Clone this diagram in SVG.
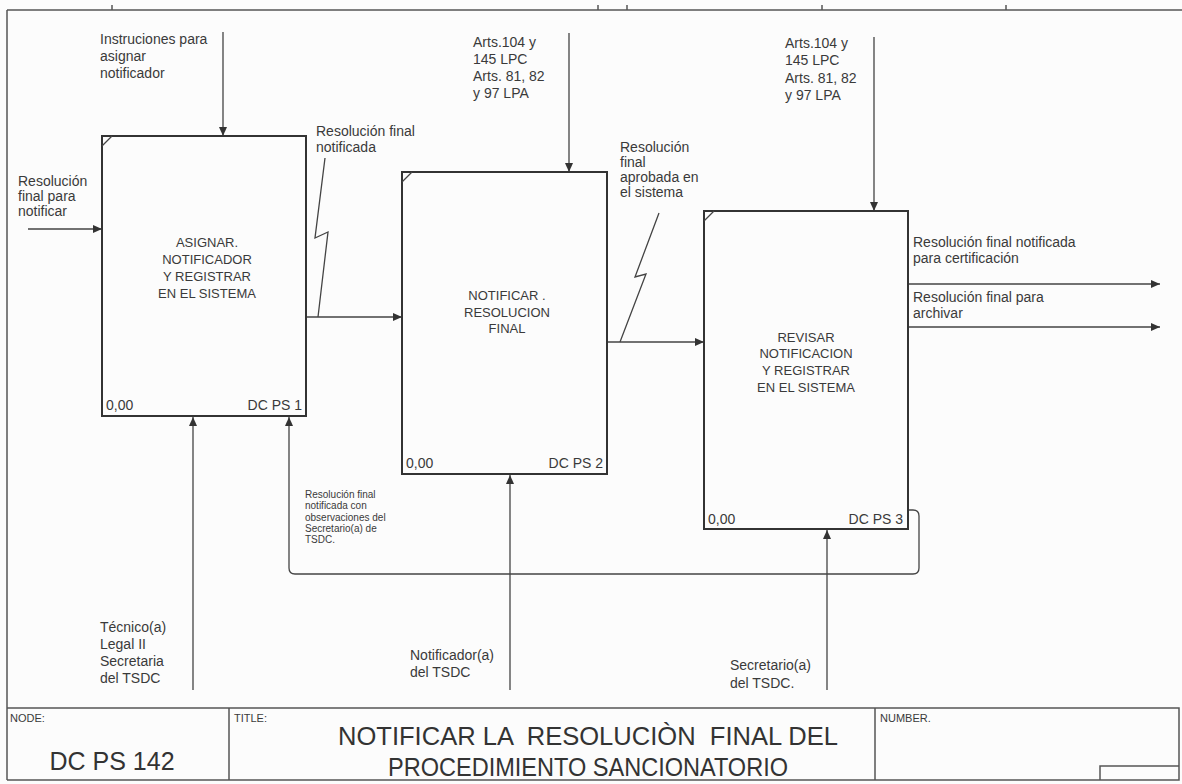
<svg xmlns="http://www.w3.org/2000/svg" width="1182" height="784" viewBox="0 0 1182 784">
<style>
.t{font-family:"Liberation Sans",Arial,sans-serif;font-size:14px;fill:#3a3a3a}
.bt{font-family:"Liberation Sans",Arial,sans-serif;font-size:13px;fill:#3a3a3a;text-anchor:middle}
.sm{font-family:"Liberation Sans",Arial,sans-serif;font-size:10px;fill:#3a3a3a}
.ft{font-family:"Liberation Sans",Arial,sans-serif;font-size:11px;fill:#3a3a3a}
.big{font-family:"Liberation Sans",Arial,sans-serif;font-size:25px;fill:#333;text-anchor:middle}
.box{fill:none;stroke:#333;stroke-width:2}
.c{fill:none;stroke:#444;stroke-width:1.3}
.fr{fill:none;stroke:#555;stroke-width:1.5}
</style>
<defs>
<marker id="ah" markerUnits="userSpaceOnUse" markerWidth="10" markerHeight="8" refX="9" refY="4" orient="auto">
<path d="M0,0 L9,4 L0,8 z" fill="#333"/>
</marker>
</defs>
<rect x="0" y="0" width="1182" height="784" fill="#fcfcfc"/>
<g id="frame">
<path class="fr" d="M7,10 H1182 M7,10 V780"/>
<path class="fr" d="M112,5 V10 M598,5 V10 M627,5 V10 M822,5 V10 M1006,5 V10"/>
</g>
<g id="connectors">
<path class="c" d="M223,32 V136" marker-end="url(#ah)"/>
<path class="c" d="M569,33 V172" marker-end="url(#ah)"/>
<path class="c" d="M874,37 V211" marker-end="url(#ah)"/>
<path class="c" d="M28,229 H102" marker-end="url(#ah)"/>
<path class="c" d="M306,317 H402" marker-end="url(#ah)"/>
<path class="c" d="M608,342 H704" marker-end="url(#ah)"/>
<path class="c" d="M908,284 H1160" marker-end="url(#ah)"/>
<path class="c" d="M908,327 H1160" marker-end="url(#ah)"/>
<path class="c" d="M193,690 V417" marker-end="url(#ah)"/>
<path class="c" d="M510,690 V475" marker-end="url(#ah)"/>
<path class="c" d="M827,690 V530" marker-end="url(#ah)"/>
<path class="c" d="M908,510 H913 Q919,510 919,516 V568 Q919,574 913,574 H295 Q289,574 289,568 V417" marker-end="url(#ah)"/>
<path class="c" d="M325,158 L315,238 L328,232 L318,317"/>
<path class="c" d="M659,213 L635,277 L646,274 L620,342"/>
</g>
<g id="node1">
<rect class="box" x="102" y="136" width="204" height="280"/>
<path class="c" d="M102,146 L112,136"/>
<text class="bt" x="207" y="247">ASIGNAR.</text>
<text class="bt" x="207" y="264">NOTIFICADOR</text>
<text class="bt" x="207" y="281">Y REGISTRAR</text>
<text class="bt" x="207" y="298">EN EL SISTEMA</text>
<text class="t" x="106" y="410">0,00</text>
<text class="t" x="302" y="410" text-anchor="end">DC PS 1</text>
</g>
<g id="node2">
<rect class="box" x="402" y="172" width="205" height="302"/>
<path class="c" d="M402,182 L412,172"/>
<text class="bt" x="507" y="300">NOTIFICAR .</text>
<text class="bt" x="507" y="317">RESOLUCION</text>
<text class="bt" x="507" y="333">FINAL</text>
<text class="t" x="406" y="468">0,00</text>
<text class="t" x="603" y="468" text-anchor="end">DC PS 2</text>
</g>
<g id="node3">
<rect class="box" x="704" y="211" width="204" height="318"/>
<path class="c" d="M704,221 L714,211"/>
<text class="bt" x="806" y="342">REVISAR</text>
<text class="bt" x="806" y="358">NOTIFICACION</text>
<text class="bt" x="806" y="375">Y REGISTRAR</text>
<text class="bt" x="806" y="392">EN EL SISTEMA</text>
<text class="t" x="708" y="524">0,00</text>
<text class="t" x="903" y="524" text-anchor="end">DC PS 3</text>
</g>
<g id="labels">
<text class="t" x="100" y="44">Instruciones para</text>
<text class="t" x="100" y="61">asignar</text>
<text class="t" x="100" y="78">notificador</text>
<text class="t" x="18" y="186">Resolución</text>
<text class="t" x="18" y="201">final para</text>
<text class="t" x="18" y="216">notificar</text>
<text class="t" x="316" y="136">Resolución final</text>
<text class="t" x="316" y="152">notificada</text>
<text class="t" x="473" y="47">Arts.104 y</text>
<text class="t" x="473" y="64">145 LPC</text>
<text class="t" x="473" y="81">Arts. 81, 82</text>
<text class="t" x="473" y="98">y 97 LPA</text>
<text class="t" x="620" y="152">Resolución</text>
<text class="t" x="620" y="167">final</text>
<text class="t" x="620" y="182">aprobada en</text>
<text class="t" x="620" y="197">el sistema</text>
<text class="t" x="785" y="48">Arts.104 y</text>
<text class="t" x="785" y="65">145 LPC</text>
<text class="t" x="785" y="83">Arts. 81, 82</text>
<text class="t" x="785" y="100">y 97 LPA</text>
<text class="t" x="913" y="247">Resolución final notificada</text>
<text class="t" x="913" y="263">para certificación</text>
<text class="t" x="913" y="302">Resolución final para</text>
<text class="t" x="913" y="318">archivar</text>
<text class="sm" x="305" y="498">Resolución final</text>
<text class="sm" x="305" y="509">notificada con</text>
<text class="sm" x="305" y="521">observaciones del</text>
<text class="sm" x="305" y="532">Secretario(a) de</text>
<text class="sm" x="305" y="543">TSDC.</text>
<text class="t" x="100" y="632">Técnico(a)</text>
<text class="t" x="100" y="649">Legal II</text>
<text class="t" x="100" y="666">Secretaria</text>
<text class="t" x="100" y="683">del TSDC</text>
<text class="t" x="410" y="660">Notificador(a)</text>
<text class="t" x="410" y="677">del TSDC</text>
<text class="t" x="730" y="670">Secretario(a)</text>
<text class="t" x="730" y="688">del TSDC.</text>
</g>
<g id="footer">
<path class="fr" d="M7,708 H1179 V780 H7 M229,708 V780 M875,708 V780 M1100,780 V766 H1179"/>
<text class="ft" x="10" y="722">NODE:</text>
<text class="ft" x="234" y="722">TITLE:</text>
<text class="ft" x="880" y="722">NUMBER.</text>
<text class="big" x="112" y="770">DC PS 142</text>
<text class="big" x="588" y="745" xml:space="preserve" textLength="500" lengthAdjust="spacingAndGlyphs">NOTIFICAR LA  RESOLUCIÒN  FINAL DEL</text>
<text class="big" x="588" y="776" textLength="400" lengthAdjust="spacingAndGlyphs">PROCEDIMIENTO SANCIONATORIO</text>
</g>
</svg>
